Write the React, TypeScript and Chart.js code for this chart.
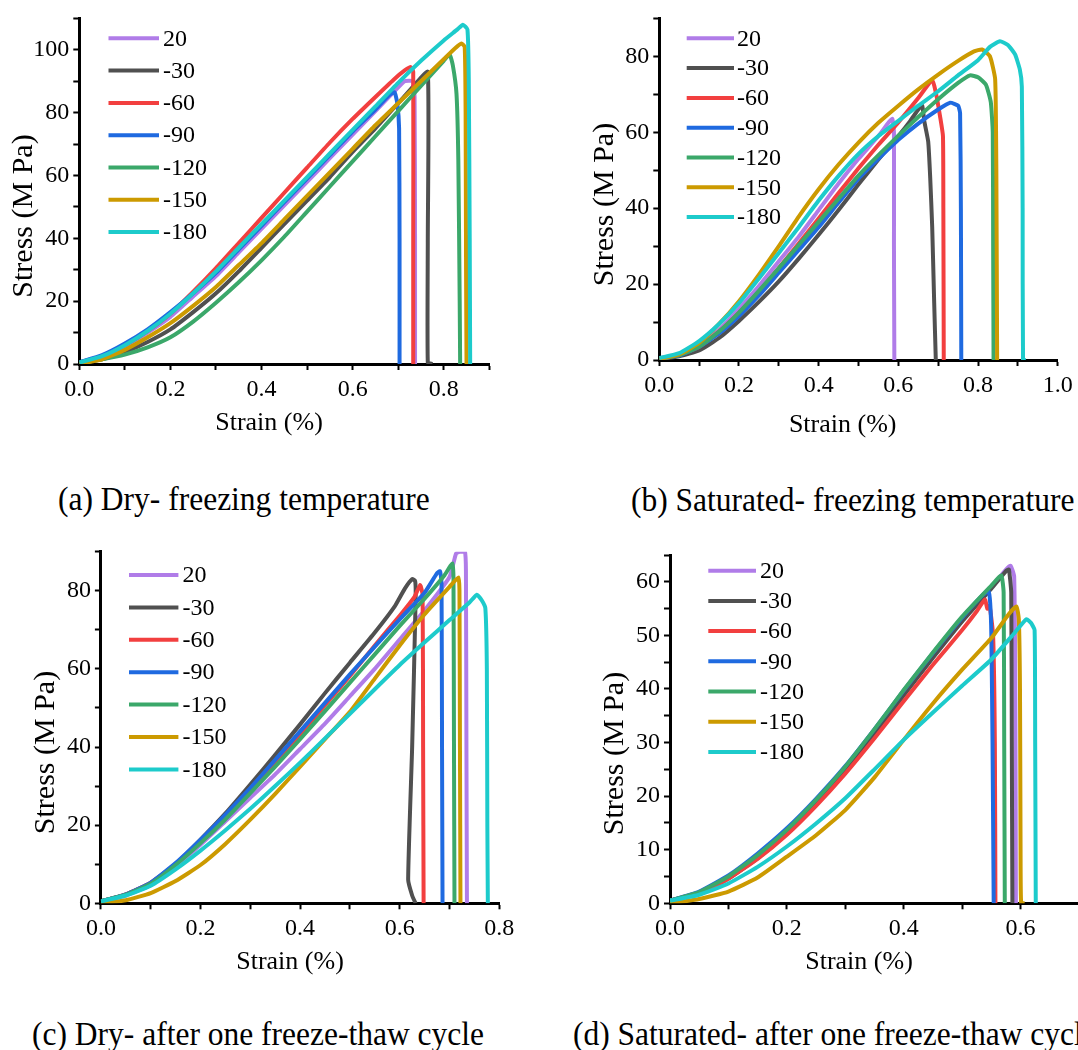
import React, { useEffect, useRef } from "react";
import { Chart, registerables } from "chart.js";

Chart.register(...registerables);

type Pt = [number, number];

const FONT = "'Liberation Serif', 'Times New Roman', Times, serif";

// ---------- shared legend / colours ----------
const seriesLabels = ["20", "-30", "-60", "-90", "-120", "-150", "-180"];
const seriesColors = ["#B07CE8", "#505050", "#F23F3F", "#1F6AE0", "#3BA86A", "#CC9A00", "#1DCBCB"];

const xTitleText = "Strain (%)";
const yTitleText = "Stress (M Pa)";

const captionA = "(a) Dry- freezing temperature";
const captionB = "(b) Saturated- freezing temperature";
const captionC = "(c) Dry- after one freeze-thaw cycle";
const captionD = "(d) Saturated- after one freeze-thaw cycle";

// ---------- (a) Dry - freezing temperature ----------
const dryFreeze20: Pt[] = [[0,0.5],[0.05,2.5],[0.1,5.5],[0.15,10],[0.2,15],[0.25,21.5],[0.3,28],[0.35,35.5],[0.4,43],[0.45,50.5],[0.5,58],[0.55,65.5],[0.6,73],[0.65,80.5],[0.69,86.5],[0.714,90],[0.732,90],[0.736,85],[0.737,40],[0.737,0]];
const dryFreezeM30: Pt[] = [[0,0.3],[0.05,1.5],[0.1,3.8],[0.15,7],[0.2,11],[0.25,16.5],[0.3,22.5],[0.35,29.5],[0.4,37],[0.45,44.5],[0.5,52],[0.55,59.5],[0.6,67.5],[0.65,75],[0.7,83],[0.74,89.5],[0.765,93],[0.765,40],[0.765,0.5],[0.775,0]];
const dryFreezeM60: Pt[] = [[0,0.5],[0.05,2.5],[0.1,6],[0.15,10.5],[0.2,16],[0.25,23],[0.3,30.5],[0.35,38.5],[0.4,46.5],[0.45,54.5],[0.5,62.5],[0.55,70.5],[0.6,78],[0.65,85],[0.69,90.5],[0.715,93.5],[0.728,94.5],[0.733,93],[0.733,40],[0.733,0]];
const dryFreezeM90: Pt[] = [[0,0.5],[0.05,2.8],[0.1,6.5],[0.15,11],[0.2,16.5],[0.25,22.5],[0.3,29],[0.35,36.5],[0.4,44],[0.45,51.5],[0.5,59],[0.55,66.5],[0.6,74],[0.65,81],[0.68,85.5],[0.692,86.5],[0.698,83],[0.702,75],[0.703,40],[0.703,0]];
const dryFreezeM120: Pt[] = [[0,0.3],[0.05,1.5],[0.1,3],[0.15,5.3],[0.2,8.5],[0.25,13.5],[0.3,19.5],[0.35,26],[0.4,33],[0.45,40.5],[0.5,48.5],[0.55,56.5],[0.6,64.5],[0.65,72.5],[0.7,80.5],[0.75,88.5],[0.8,96.5],[0.813,98.5],[0.82,95],[0.828,86],[0.832,65],[0.835,20],[0.836,0]];
const dryFreezeM150: Pt[] = [[0,0],[0.05,1.5],[0.1,4.5],[0.15,8.5],[0.2,13],[0.25,18.5],[0.3,24.5],[0.35,31.5],[0.4,38.5],[0.45,46],[0.5,53.5],[0.55,61],[0.6,68.5],[0.65,76],[0.7,83],[0.75,90],[0.8,97],[0.825,100.5],[0.839,102],[0.846,101],[0.848,80],[0.849,30],[0.85,0]];
const dryFreezeM180: Pt[] = [[0,0.5],[0.05,2.5],[0.1,6],[0.15,10.5],[0.2,16],[0.25,22.5],[0.3,29.5],[0.35,37],[0.4,44.5],[0.45,52],[0.5,59.5],[0.55,67],[0.6,74.5],[0.65,82],[0.7,89.5],[0.75,96.5],[0.8,103],[0.83,106.5],[0.842,108],[0.852,106.5],[0.855,90],[0.857,40],[0.858,0]];

// ---------- (b) Saturated - freezing temperature ----------
const satFreeze20: Pt[] = [[0,0.5],[0.05,1.5],[0.1,4],[0.15,8],[0.2,13.5],[0.25,19.5],[0.3,26],[0.35,32.5],[0.4,39.5],[0.45,46.5],[0.5,53],[0.55,59],[0.575,62.5],[0.585,63.5],[0.589,60],[0.589,30],[0.59,0]];
const satFreezeM30: Pt[] = [[0,0.3],[0.05,1],[0.1,2.5],[0.15,5.8],[0.2,10.3],[0.25,15.3],[0.3,20.7],[0.35,26.7],[0.4,33],[0.45,39.5],[0.5,46.3],[0.55,52.8],[0.6,59],[0.63,63],[0.65,66],[0.66,67],[0.665,63],[0.675,57.5],[0.68,48],[0.685,35],[0.69,15],[0.694,0]];
const satFreezeM60: Pt[] = [[0,0.3],[0.05,1.3],[0.1,3.5],[0.15,7.5],[0.2,12.5],[0.25,18],[0.3,24.2],[0.35,30.7],[0.4,37.3],[0.45,44],[0.5,50.5],[0.55,56.7],[0.6,62.6],[0.65,69],[0.685,73.7],[0.695,70],[0.705,64],[0.712,59],[0.713,40],[0.714,0]];
const satFreezeM90: Pt[] = [[0,0.3],[0.05,1.2],[0.1,3.5],[0.15,7],[0.2,11.6],[0.25,17],[0.3,23],[0.35,29],[0.4,35],[0.45,41.5],[0.5,47.8],[0.55,53],[0.6,58],[0.65,62.3],[0.7,66],[0.73,67.8],[0.75,67],[0.755,65],[0.757,40],[0.758,0]];
const satFreezeM120: Pt[] = [[0,0.3],[0.05,1.3],[0.1,3.5],[0.15,7.5],[0.2,12.5],[0.25,18.2],[0.3,24.2],[0.35,30.3],[0.4,36.4],[0.45,42.5],[0.5,48.6],[0.55,54],[0.6,59.1],[0.65,64],[0.7,68.7],[0.75,73],[0.78,75],[0.8,74.5],[0.82,72.5],[0.832,68],[0.837,60],[0.838,30],[0.839,0]];
const satFreezeM150: Pt[] = [[0,0.3],[0.05,1.5],[0.1,4.5],[0.15,9.5],[0.2,15.5],[0.25,22.5],[0.3,30],[0.35,37.8],[0.4,45],[0.45,51.5],[0.5,57.3],[0.55,62.5],[0.6,67],[0.65,71.3],[0.7,75.2],[0.75,78.8],[0.79,81.3],[0.81,81.8],[0.83,80],[0.843,74],[0.846,50],[0.848,0]];
const satFreezeM180: Pt[] = [[0,0.5],[0.05,1.8],[0.1,5],[0.15,9.5],[0.2,15],[0.25,21.5],[0.3,28.2],[0.35,35],[0.4,42],[0.45,48.5],[0.5,54.3],[0.55,59],[0.6,63],[0.65,67],[0.7,70.8],[0.75,75],[0.8,79],[0.83,82.5],[0.855,84],[0.875,83],[0.893,80.5],[0.905,76.5],[0.91,72],[0.912,40],[0.913,0],[0.92,0]];

// ---------- (c) Dry - after one freeze-thaw cycle ----------
const dryCycle20: Pt[] = [[0,0.5],[0.05,2],[0.1,4.7],[0.15,9.5],[0.2,15],[0.25,21],[0.3,27],[0.35,33],[0.4,39.5],[0.45,46],[0.5,53],[0.55,60],[0.6,67.5],[0.65,75],[0.7,83.5],[0.713,89.5],[0.72,90],[0.731,90],[0.733,85],[0.734,40],[0.735,0]];
const dryCycleM30: Pt[] = [[0,0.5],[0.05,2.2],[0.1,5.2],[0.15,10],[0.2,16.3],[0.25,23],[0.3,30.4],[0.35,38],[0.4,45.8],[0.45,53.8],[0.5,61.6],[0.55,69.3],[0.59,76],[0.61,80.5],[0.625,83],[0.631,82.5],[0.632,78],[0.625,40],[0.617,6],[0.625,2],[0.632,0]];
const dryCycleM60: Pt[] = [[0,0.5],[0.05,2.3],[0.1,5.3],[0.15,10],[0.2,15.8],[0.25,22.2],[0.3,29],[0.35,36],[0.4,43.2],[0.45,50.7],[0.5,58.2],[0.55,66],[0.6,73.6],[0.63,78.5],[0.641,81.5],[0.646,79],[0.647,40],[0.648,0]];
const dryCycleM90: Pt[] = [[0,0.5],[0.05,2.3],[0.1,5.3],[0.15,10.3],[0.2,16.3],[0.25,22.7],[0.3,29.5],[0.35,36.7],[0.4,44],[0.45,51.3],[0.5,58.6],[0.55,65.7],[0.6,72.7],[0.65,79.5],[0.675,84.5],[0.681,85],[0.684,82],[0.685,40],[0.686,0]];
const dryCycleM120: Pt[] = [[0,0.5],[0.05,2.2],[0.1,5],[0.15,9.8],[0.2,15.4],[0.25,21.5],[0.3,28.2],[0.35,35],[0.4,42],[0.45,49.2],[0.5,56.5],[0.55,63.7],[0.6,71],[0.65,78],[0.69,84],[0.706,87],[0.708,83],[0.709,40],[0.71,0]];
const dryCycleM150: Pt[] = [[0,0],[0.05,0.8],[0.1,2.6],[0.15,5.7],[0.2,9.8],[0.25,15.2],[0.3,21.4],[0.35,28],[0.4,35],[0.45,42],[0.5,49],[0.55,57.5],[0.6,66],[0.65,74],[0.7,81],[0.718,83.4],[0.72,80],[0.721,40],[0.722,0]];
const dryCycleM180: Pt[] = [[0,0.5],[0.05,2],[0.1,4.5],[0.15,8.7],[0.2,13.5],[0.25,18.7],[0.3,24.2],[0.35,30],[0.4,36],[0.45,42.2],[0.5,48.5],[0.55,54.8],[0.6,61],[0.65,66.8],[0.7,72.5],[0.74,77],[0.755,79],[0.765,77.5],[0.772,75.5],[0.775,60],[0.776,20],[0.777,0]];

// ---------- (d) Saturated - after one freeze-thaw cycle ----------
const satCycle20: Pt[] = [[0,0.5],[0.05,2],[0.1,4.8],[0.15,8.7],[0.2,13.2],[0.25,18.7],[0.3,24.8],[0.35,31.7],[0.4,39],[0.45,46],[0.5,52.8],[0.55,59],[0.575,62.3],[0.583,63],[0.589,61],[0.591,40],[0.592,0]];
const satCycleM30: Pt[] = [[0,0.5],[0.05,1.9],[0.1,4.6],[0.15,8.4],[0.2,13],[0.25,18.5],[0.3,24.7],[0.35,31.5],[0.4,38.8],[0.45,45.8],[0.5,52.6],[0.55,58.7],[0.575,62],[0.58,62.3],[0.584,58],[0.585,30],[0.586,0]];
const satCycleM60: Pt[] = [[0,0.5],[0.05,1.9],[0.1,4.6],[0.15,8.3],[0.2,12.8],[0.25,18.2],[0.3,24.2],[0.35,30.8],[0.4,37.7],[0.45,44.5],[0.5,51],[0.525,54.5],[0.539,56.7],[0.543,55],[0.547,55.5],[0.553,50],[0.556,30],[0.557,0]];
const satCycleM90: Pt[] = [[0,0.5],[0.05,2.2],[0.1,5.2],[0.15,9.3],[0.2,14],[0.25,19.5],[0.3,25.6],[0.35,32.5],[0.4,39.7],[0.45,46.7],[0.5,53.3],[0.535,57.5],[0.545,58.3],[0.548,56],[0.55,50],[0.552,30],[0.554,0]];
const satCycleM120: Pt[] = [[0,0.5],[0.05,2.1],[0.1,5],[0.15,9],[0.2,13.7],[0.25,19.3],[0.3,25.5],[0.35,32.5],[0.4,39.8],[0.45,46.8],[0.5,53.5],[0.55,59.3],[0.567,61.2],[0.571,58],[0.572,30],[0.573,0]];
const satCycleM150: Pt[] = [[0,0],[0.05,0.8],[0.1,2.2],[0.15,4.8],[0.2,8.7],[0.25,12.7],[0.3,17.4],[0.35,23.5],[0.4,30.5],[0.45,37.3],[0.5,43.6],[0.55,49.5],[0.58,54],[0.593,55.4],[0.597,53],[0.599,40],[0.6,10],[0.601,0],[0.607,0]];
const satCycleM180: Pt[] = [[0,0.5],[0.05,1.6],[0.1,3.7],[0.15,6.8],[0.2,10.6],[0.25,14.9],[0.3,19.6],[0.35,25],[0.4,30.5],[0.45,35.6],[0.5,40.6],[0.55,45.5],[0.59,50.5],[0.61,53],[0.618,52.3],[0.624,51],[0.625,30],[0.626,0]];

// ---------- axis ranges ----------
const xMaxA = 0.9, yMaxA = 110, yStepA = 10, yLabelA = 20;
const xMaxB = 1.0, yMaxB = 90, yStepB = 10, yLabelB = 20;
const xMaxC = 0.8, yMaxC = 90, yStepC = 10, yLabelC = 20;
const xMaxD = 0.7, yMaxD = 65, yStepD = 5, yLabelD = 10;

// ---------- layout (page pixels) ----------
interface Panel {
  canvas: { left: number; top: number; w: number; h: number };
  area: { l: number; r: number; t: number; b: number };
  xMax: number; yMax: number; yStep: number; yLabel: number;
  series: Pt[][];
  legend: { x0: number; x1: number; tx: number; y0: number; gap: number };
  yTitle: { x: number; y: number };
  xTitle: { x: number; y: number };
}

const panels: Panel[] = [
  {
    canvas: { left: 0, top: 0, w: 520, h: 450 },
    area: { l: 79.3, r: 489.3, t: 15, b: 364 },
    xMax: xMaxA, yMax: yMaxA, yStep: yStepA, yLabel: yLabelA,
    series: [dryFreeze20, dryFreezeM30, dryFreezeM60, dryFreezeM90, dryFreezeM120, dryFreezeM150, dryFreezeM180],
    legend: { x0: 108.5, x1: 159, tx: 163, y0: 38.3, gap: 32.3 },
    yTitle: { x: 24, y: 216 },
    xTitle: { x: 269, y: 423 },
  },
  {
    canvas: { left: 570, top: 0, w: 508, h: 450 },
    area: { l: 659.3, r: 1057.7, t: 15, b: 360 },
    xMax: xMaxB, yMax: yMaxB, yStep: yStepB, yLabel: yLabelB,
    series: [satFreeze20, satFreezeM30, satFreezeM60, satFreezeM90, satFreezeM120, satFreezeM150, satFreezeM180],
    legend: { x0: 686.7, x1: 734, tx: 737, y0: 38.3, gap: 29.8 },
    yTitle: { x: 605, y: 204.5 },
    xTitle: { x: 842.7, y: 425 },
  },
  {
    canvas: { left: 0, top: 520, w: 540, h: 470 },
    area: { l: 100.9, r: 499.3, t: 551.7, b: 903.3 },
    xMax: xMaxC, yMax: yMaxC, yStep: yStepC, yLabel: yLabelC,
    series: [dryCycle20, dryCycleM30, dryCycleM60, dryCycleM90, dryCycleM120, dryCycleM150, dryCycleM180],
    legend: { x0: 129, x1: 178.4, tx: 182.5, y0: 575, gap: 32.4 },
    yTitle: { x: 46.5, y: 752.5 },
    xTitle: { x: 290, y: 961.7 },
  },
  {
    canvas: { left: 560, top: 520, w: 560, h: 470 },
    area: { l: 670, r: 1079, t: 555, b: 903.3 },
    xMax: xMaxD, yMax: yMaxD, yStep: yStepD, yLabel: yLabelD,
    series: [satCycle20, satCycleM30, satCycleM60, satCycleM90, satCycleM120, satCycleM150, satCycleM180],
    legend: { x0: 708.3, x1: 756, tx: 760, y0: 570.7, gap: 30.2 },
    yTitle: { x: 615, y: 753.5 },
    xTitle: { x: 859, y: 961.7 },
  },
];

const captions = [
  { text: captionA, left: 58, baseline: 510 },
  { text: captionB, left: 631, baseline: 511 },
  { text: captionC, left: 32, baseline: 1045 },
  { text: captionD, left: 573, baseline: 1045 },
];

function PanelChart({ p }: { p: Panel }) {
  const ref = useRef<HTMLCanvasElement | null>(null);
  useEffect(() => {
    if (!ref.current) return;
    const c = p.canvas;
    const a = p.area;
    const ox = c.left;
    const oy = c.top;

    const overlay = {
      id: "panelOverlay",
      afterDraw(chart: any) {
        const ctx = chart.ctx as CanvasRenderingContext2D;
        ctx.save();
        // legend
        chart.data.datasets.forEach((ds: any, i: number) => {
          const y = p.legend.y0 + i * p.legend.gap - oy;
          ctx.strokeStyle = ds.borderColor;
          ctx.lineWidth = 4;
          ctx.lineCap = "butt";
          ctx.beginPath();
          ctx.moveTo(p.legend.x0 - ox, y);
          ctx.lineTo(p.legend.x1 - ox, y);
          ctx.stroke();
          ctx.fillStyle = "#000";
          ctx.font = `24px ${FONT}`;
          ctx.textAlign = "left";
          ctx.textBaseline = "middle";
          ctx.fillText(ds.label, p.legend.tx - ox, y + 1);
        });
        // axis titles
        ctx.fillStyle = "#000";
        ctx.textAlign = "center";
        ctx.textBaseline = "middle";
        ctx.font = `26px ${FONT}`;
        ctx.fillText(xTitleText, p.xTitle.x - ox, p.xTitle.y - oy);
        ctx.translate(p.yTitle.x - ox, p.yTitle.y - oy);
        ctx.rotate(-Math.PI / 2);
        ctx.font = `30px ${FONT}`;
        ctx.fillText(yTitleText, 0, 0);
        ctx.restore();
      },
    };

    const chart = new Chart(ref.current, {
      type: "line",
      data: {
        datasets: p.series.map((s, i) => ({
          label: seriesLabels[i],
          data: s.map(([x, y]) => ({ x, y })),
          borderColor: seriesColors[i],
          backgroundColor: seriesColors[i],
          borderWidth: 4,
          pointRadius: 0,
          tension: 0.15,
          fill: false,
          order: 6 - i,
        })),
      },
      options: {
        animation: false,
        responsive: false,
        maintainAspectRatio: false,
        events: [],
        layout: {
          padding: { left: 0, bottom: 0, top: a.t - c.top, right: c.left + c.w - a.r },
        },
        plugins: { legend: { display: false }, tooltip: { enabled: false } },
        scales: {
          x: {
            type: "linear",
            min: 0,
            max: p.xMax,
            border: { display: true, color: "#000", width: 3 },
            grid: { display: true, drawOnChartArea: false, drawTicks: true, tickLength: 6, tickWidth: 2, tickColor: "#000" },
            ticks: {
              stepSize: 0.1,
              autoSkip: false,
              maxRotation: 0,
              color: "#000",
              padding: 5,
              font: { family: FONT, size: 24 },
              callback: (v: any) => {
                const n = Math.round(Number(v) * 10);
                return n % 2 === 0 ? (n / 10).toFixed(1) : "";
              },
            },
            afterFit: (s: any) => {
              s.height = c.top + c.h - a.b;
            },
          },
          y: {
            type: "linear",
            min: 0,
            max: p.yMax,
            border: { display: true, color: "#000", width: 3 },
            grid: { display: true, drawOnChartArea: false, drawTicks: true, tickLength: 6, tickWidth: 2, tickColor: "#000" },
            ticks: {
              stepSize: p.yStep,
              autoSkip: false,
              color: "#000",
              padding: 4,
              font: { family: FONT, size: 24 },
              callback: (v: any) => {
                const n = Math.round(Number(v));
                return n % p.yLabel === 0 ? String(n) : "";
              },
            },
            afterFit: (s: any) => {
              s.width = a.l - c.left;
            },
          },
        },
      } as any,
      plugins: [overlay],
    });

    let alive = true;
    const fontsToLoad = [`24px 'Liberation Serif'`, `26px 'Liberation Serif'`, `30px 'Liberation Serif'`];
    if (typeof document !== "undefined" && (document as any).fonts) {
      Promise.all(fontsToLoad.map((f) => (document as any).fonts.load(f)))
        .then(() => {
          if (alive) chart.update();
        })
        .catch(() => {});
    }
    return () => {
      alive = false;
      chart.destroy();
    };
  }, [p]);

  return (
    <canvas
      ref={ref}
      width={p.canvas.w}
      height={p.canvas.h}
      style={{ position: "absolute", left: p.canvas.left, top: p.canvas.top, width: p.canvas.w, height: p.canvas.h }}
    />
  );
}

export default function App() {
  return (
    <div
      style={{
        position: "fixed",
        left: 0,
        top: 0,
        width: 1078,
        height: 1050,
        overflow: "hidden",
        background: "#fff",
      }}
    >
      {panels.map((p, i) => (
        <PanelChart key={i} p={p} />
      ))}
      {captions.map((cap, i) => (
        <div
          key={i}
          style={{
            position: "absolute",
            left: cap.left,
            top: cap.baseline - 26,
            fontFamily: FONT,
            fontSize: 31.5,
            lineHeight: "31px",
            whiteSpace: "nowrap",
            color: "#000",
            transform: "scaleY(1.1)",
            transformOrigin: "0 26px",
          }}
        >
          {cap.text}
        </div>
      ))}
    </div>
  );
}
